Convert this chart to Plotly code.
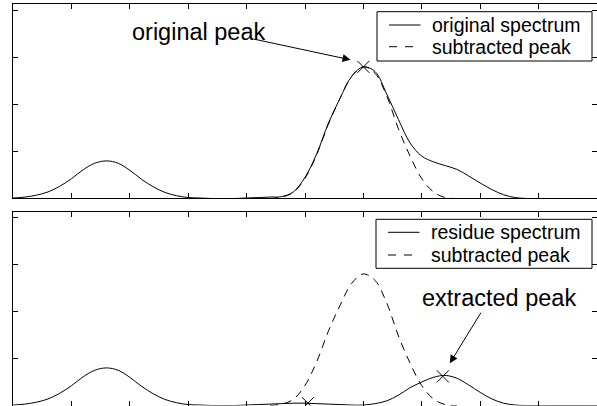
import plotly.graph_objects as go

# ---------------- data ----------------
x_grid = [0.0, 0.2, 0.4, 0.6, 0.8, 1.0, 1.2, 1.4, 1.6, 1.8,
          2.0, 2.2, 2.4, 2.6, 2.8, 3.0, 3.2, 3.4, 3.6, 3.8,
          4.0, 4.2, 4.4, 4.6, 4.8, 5.0, 5.2, 5.4, 5.6, 5.8,
          6.0, 6.2, 6.4, 6.6, 6.8, 7.0, 7.2, 7.4, 7.6, 7.8,
          8.0, 8.2, 8.4, 8.6, 8.8, 9.0, 9.2, 9.4, 9.6, 9.8, 10.0]

original_spectrum = [0.01, 0.03, 0.07, 0.14, 0.26, 0.42, 0.61, 0.75, 0.80, 0.75,
                     0.60, 0.41, 0.25, 0.13, 0.06, 0.02, 0.01, 0.00, 0.00, 0.00,
                     0.01, 0.02, 0.03, 0.04, 0.14, 0.45, 0.95, 1.60, 2.13, 2.60,
                     2.80, 2.70, 2.22, 1.68, 1.18, 0.90, 0.78, 0.70, 0.62, 0.48,
                     0.33, 0.19, 0.08, 0.02, 0.00, 0.00, 0.00, 0.00, 0.00, 0.00, 0.00]

residue_spectrum = [0.01, 0.03, 0.07, 0.14, 0.26, 0.42, 0.61, 0.75, 0.80, 0.75,
                    0.60, 0.41, 0.25, 0.13, 0.06, 0.02, 0.01, 0.00, 0.00, 0.00,
                    0.01, 0.02, 0.03, 0.04, 0.05, 0.05, 0.04, 0.03, 0.02, 0.01,
                    0.01, 0.04, 0.10, 0.22, 0.38, 0.50, 0.60, 0.64, 0.58, 0.44,
                    0.28, 0.14, 0.05, 0.01, 0.00, 0.00, 0.00, 0.00, 0.00, 0.00, 0.00]

peak_x = [4.4, 4.6, 4.8, 5.0, 5.2, 5.4, 5.6, 5.8, 6.0, 6.2,
          6.4, 6.6, 6.8, 7.0, 7.2, 7.4, 7.6]
subtracted_peak = [0.00, 0.03, 0.13, 0.43, 0.93, 1.58, 2.13, 2.60, 2.80, 2.66,
                   2.18, 1.48, 0.90, 0.42, 0.14, 0.02, 0.00]

orig_peak_x = [6.0]
orig_peak_y = [2.80]
extracted_x = [5.05, 7.36]
extracted_y = [0.05, 0.62]

x_ticks = [0, 1, 2, 3, 4, 5, 6, 7, 8, 9, 10]
y_ticks = [0, 1, 2, 3, 4]

top_legend_labels = ["original spectrum", "subtracted peak"]
bottom_legend_labels = ["residue spectrum", "subtracted peak"]

# ---------------- figure ----------------
FONT = "Liberation Sans, Arial, Helvetica, sans-serif"
W, H, ML = 597, 406, 13
solid = dict(color="black", width=1)
dashed = dict(color="black", width=1, dash="8px,6px")


def px_x(p):
    return (p - ML) / (W - ML)


def px_y(p):
    return 1 - p / H


fig = go.Figure()

# top panel
fig.add_trace(go.Scatter(x=x_grid, y=original_spectrum, mode="lines", line=solid,
                         line_shape="spline", name=top_legend_labels[0],
                         xaxis="x", yaxis="y"))
fig.add_trace(go.Scatter(x=peak_x, y=subtracted_peak, mode="lines", line=dashed,
                         line_shape="spline", name=top_legend_labels[1],
                         xaxis="x", yaxis="y"))
fig.add_trace(go.Scatter(x=orig_peak_x, y=orig_peak_y, mode="markers",
                         marker=dict(symbol="x-thin", size=12,
                                     line=dict(color="black", width=1)),
                         xaxis="x", yaxis="y"))

# bottom panel
fig.add_trace(go.Scatter(x=x_grid, y=residue_spectrum, mode="lines", line=solid,
                         line_shape="spline", name=bottom_legend_labels[0],
                         xaxis="x2", yaxis="y2"))
fig.add_trace(go.Scatter(x=peak_x, y=subtracted_peak, mode="lines", line=dashed,
                         line_shape="spline", name=bottom_legend_labels[1],
                         xaxis="x2", yaxis="y2"))
fig.add_trace(go.Scatter(x=extracted_x, y=extracted_y, mode="markers",
                         marker=dict(symbol="x-thin", size=12,
                                     line=dict(color="black", width=1)),
                         xaxis="x2", yaxis="y2"))

ax_common = dict(showline=True, linecolor="black", linewidth=1, mirror="ticks",
                 ticks="inside", ticklen=5, tickcolor="black", tickwidth=1,
                 showticklabels=False, showgrid=False, zeroline=False)

# ---- legend boxes (drawn as shapes + text, matching the reference layout) ----
shapes = []
annotations = []
legend_specs = [
    # box left, box top, box right, box bottom, row centres, labels
    (377, 11.7, 592, 61.0, (25.0, 46.7), top_legend_labels),
    (376, 219.3, 592, 268.3, (232.3, 255.0), bottom_legend_labels),
]
for (bx0, by0, bx1, by1, rows, labels) in legend_specs:
    shapes.append(dict(type="rect", xref="paper", yref="paper",
                       x0=px_x(bx0), x1=px_x(bx1), y0=px_y(by1), y1=px_y(by0),
                       line=dict(color="black", width=1), fillcolor="white", layer="above"))
    for i, (ry, lab) in enumerate(zip(rows, labels)):
        st = solid if i == 0 else dict(color="black", width=1, dash="8px,8px")
        shapes.append(dict(type="line", xref="paper", yref="paper",
                           x0=px_x(bx0 + 12), x1=px_x(bx0 + 43.5),
                           y0=px_y(ry), y1=px_y(ry), line=st, layer="above"))
        annotations.append(dict(text=lab, xref="paper", yref="paper",
                                x=px_x(bx0 + 53), y=px_y(ry), xanchor="left",
                                yanchor="middle", showarrow=False,
                                font=dict(family=FONT, size=19.5, color="black")))

annotations += [
    dict(text="original peak", x=3.19, y=3.55, xref="x", yref="y",
         showarrow=False, font=dict(family=FONT, size=23.5, color="black")),
    dict(text="", x=5.78, y=2.95, xref="x", yref="y", showarrow=True,
         ax=-98, ay=-21, arrowhead=2, arrowsize=1.6, arrowwidth=1, arrowcolor="black"),
    dict(text="extracted peak", x=8.32, y=2.28, xref="x2", yref="y2",
         showarrow=False, font=dict(family=FONT, size=23.5, color="black")),
    dict(text="", x=7.48, y=0.90, xref="x2", yref="y2", showarrow=True,
         ax=32, ay=-52, arrowhead=2, arrowsize=1.6, arrowwidth=1, arrowcolor="black"),
]

fig.update_layout(
    width=W, height=H,
    margin=dict(l=ML, r=0, t=0, b=0),
    paper_bgcolor="white", plot_bgcolor="white",
    font=dict(family=FONT, color="black"),
    showlegend=False,
    xaxis=dict(domain=[0, 1], range=[0, 10], tickvals=x_ticks, anchor="y", **ax_common),
    yaxis=dict(domain=[0.5111, 0.9902], range=[0, 4.138], tickvals=y_ticks, anchor="x", **ax_common),
    xaxis2=dict(domain=[0, 1], range=[0, 10], tickvals=x_ticks, anchor="y2", **ax_common),
    yaxis2=dict(domain=[0.0012, 0.4778], range=[0, 4.117], tickvals=y_ticks, anchor="x2", **ax_common),
    shapes=shapes,
    annotations=annotations,
)

fig.write_html(
    "out.html",
    config={"displayModeBar": False},
    post_script="document.body.style.margin='0px';document.body.style.padding='0px';",
)
